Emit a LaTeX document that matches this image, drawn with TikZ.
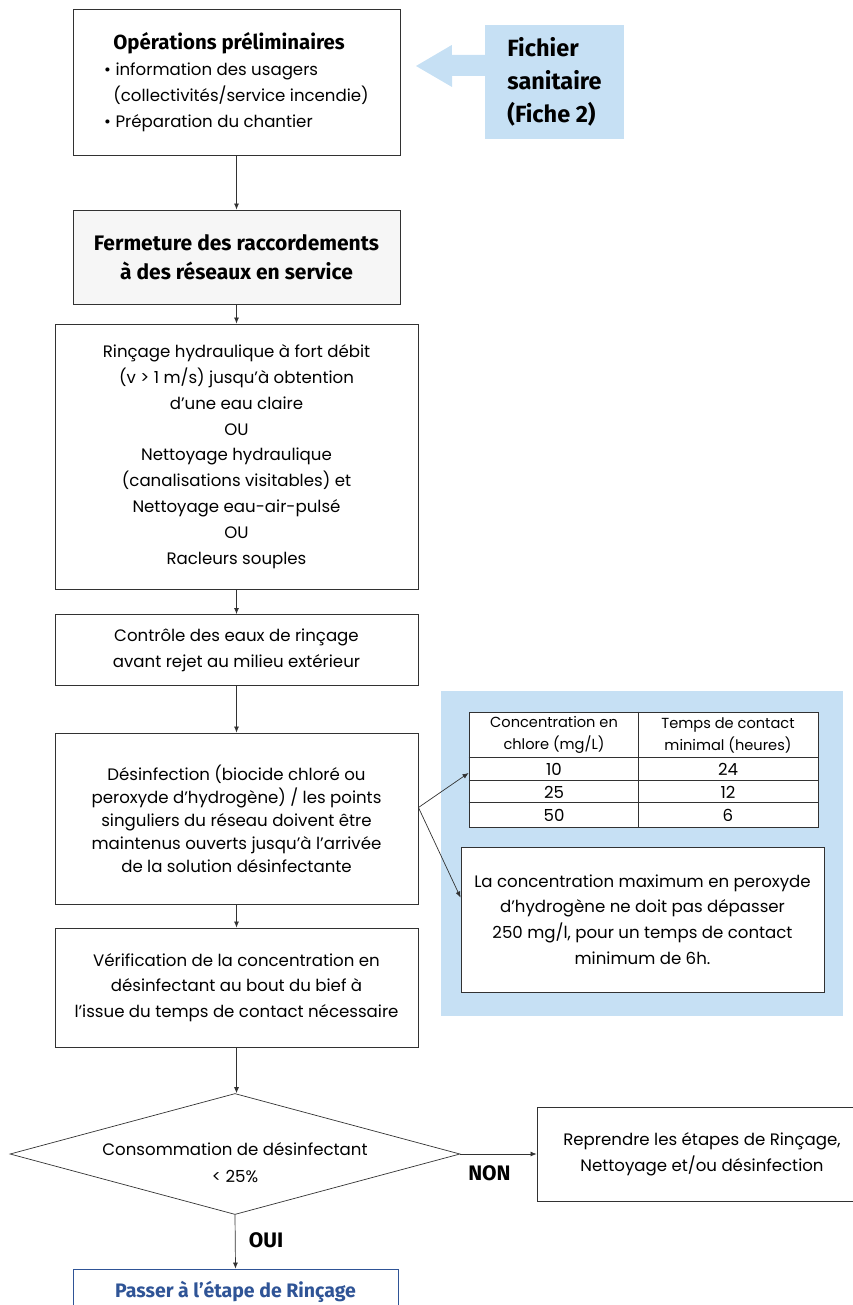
\documentclass[tikz,border=0pt]{standalone}
\usepackage{fontspec}
\setmainfont{Poppins}
\newfontfamily\hdfont{Fira Sans}
\usetikzlibrary{positioning,arrows.meta,shapes.geometric}
\definecolor{colorpanel}{RGB}{198,224,244}
\definecolor{colorline}{RGB}{50,50,50}
\definecolor{colorgo}{RGB}{47,84,150}
\definecolor{colorshade}{RGB}{246,246,246}

\begin{document}
\begin{tikzpicture}[
    x=1pt, y=-1pt,
    font={\fontsize{16.6}{25.8}\selectfont},
    flow/.style={-{Latex[length=6pt,width=5pt]},colorline,line width=0.7pt},
    stage/.style={draw=colorline,line width=0.9pt,fill=white,align=center,inner sep=0pt},
    heading/.style={text=black,font={\hdfont\bfseries\fontsize{21}{29}\selectfont}},
    cell/.style={inner sep=0pt,align=center},
]
    \useasboundingbox (0,0) rectangle (852,1305);

    % Side panel
    \node[fill=colorpanel,minimum width=402pt,minimum height=325pt,inner sep=0pt] (panel) at (642,853.5) {};

    % Main column
    \node[stage,minimum width=327pt,minimum height=146pt,align=left] (prelim) at (236.5,82)
        {\hspace*{0.55em}{\hdfont\bfseries\fontsize{20.4}{26}\selectfont Opérations préliminaires}\\
         \textbullet\ information des usagers\\
         \hspace*{0.55em}(collectivités/service incendie)\\
         \textbullet\ Préparation du chantier};
    \node[stage,heading,fill=colorshade,minimum width=327pt,minimum height=94pt] (closing) at (236.5,257)
        {Fermeture des raccordements\\à des réseaux en service};
    \node[stage,minimum width=363pt,minimum height=265pt] (rinsing) at (236.5,456.5)
        {Rinçage hydraulique à fort débit\\(v > 1 m/s) jusqu’à obtention\\d’une eau claire\\OU\\Nettoyage hydraulique\\(canalisations visitables) et\\Nettoyage eau-air-pulsé\\OU\\Racleurs souples};
    \node[stage,minimum width=363pt,minimum height=71pt] (control) at (236.5,650)
        {Contrôle des eaux de rinçage\\avant rejet au milieu extérieur};
    \node[stage,minimum width=363pt,minimum height=171pt,font={\fontsize{16.6}{23}\selectfont}] (disinf) at (236.5,818.5)
        {Désinfection (biocide chloré ou\\peroxyde d’hydrogène) / les points\\singuliers du réseau doivent être\\maintenus ouverts jusqu’à l’arrivée\\de la solution désinfectante};
    \node[stage,minimum width=363pt,minimum height=119pt] (check) at (236.5,987.5)
        {Vérification de la concentration en\\désinfectant au bout du bief à\\l’issue du temps de contact nécessaire};
    \node[diamond,draw=colorline,line width=0.7pt,aspect=3.75,inner sep=0pt,
          minimum width=450pt,minimum height=121pt] (decision) at (235,1154) {};
    \node[cell,font={\fontsize{16.6}{27}\selectfont}] (decisiontext) at (235,1163)
        {Consommation de désinfectant\\< 25\%};
    \node[stage,minimum width=330pt,minimum height=94pt] (redo) at (702,1154)
        {Reprendre les étapes de Rinçage,\\Nettoyage et/ou désinfection};
    \node[stage,draw=colorgo,minimum width=325pt,minimum height=46pt,
          text=colorgo,font={\hdfont\bfseries\fontsize{19.5}{22}\selectfont}] (next) at (235.5,1292)
        {Passer à l’étape de Rinçage};

    % Fiche sanitaire
    \node[fill=colorpanel,minimum width=139pt,minimum height=114pt,inner sep=0pt,align=left,
          font={\hdfont\bfseries\fontsize{23.5}{33}\selectfont}] (sheet) at (554.5,82)
        {Fichier\\sanitaire\\(Fiche 2)};
    \fill[colorpanel] (sheet.west) ++(0,-27) -- ++(-33,0) -- ++(0,-10) -- (416,66)
        -- (452,87) -- (452,76) -- (486,76) -- cycle;

    % Chlorine table
    \node[draw=colorline,line width=0.9pt,fill=white,minimum width=349pt,minimum height=115pt,inner sep=0pt] (table) at (643.5,769.5) {};
    \draw[colorline,line width=0.9pt] ([xshift=170pt]table.north west) -- ([xshift=170pt]table.south west);
    \draw[colorline,line width=0.9pt] ([yshift=-46pt]table.north west) -- ([yshift=-46pt]table.north east);
    \draw[colorline,line width=0.9pt] ([yshift=-69pt]table.north west) -- ([yshift=-69pt]table.north east);
    \draw[colorline,line width=0.9pt] ([yshift=-91pt]table.north west) -- ([yshift=-91pt]table.north east);
    \node[cell,font={\fontsize{14.6}{22}\selectfont}] (headconc) at (554,735) {Concentration en\\chlore (mg/L)};
    \node[cell,font={\fontsize{14.6}{22}\selectfont}] (headtime) at (728,735) {Temps de contact\\minimal (heures)};
    \node[cell] (conca) at (554,769.5) {10};
    \node[cell] (timea) at (728,769.5) {24};
    \node[cell] (concb) at (554,792) {25};
    \node[cell] (timeb) at (728,792) {12};
    \node[cell] (concc) at (554,815) {50};
    \node[cell] (timec) at (728,815) {6};

    \node[stage,minimum width=363pt,minimum height=145pt] (peroxide) at (642.5,919.5)
        {La concentration maximum en peroxyde\\d’hydrogène ne doit pas dépasser\\250 mg/l, pour un temps de contact\\minimum de 6h.};

    % Connectors
    \draw[flow] (prelim) -- (closing);
    \draw[flow] (closing) -- (rinsing);
    \draw[flow] (rinsing) -- (control);
    \draw[flow] (control) -- (disinf);
    \draw[flow] (disinf) -- (check);
    \draw[flow] (check) -- (check |- decision.north);
    \draw[flow] ([yshift=11pt]disinf.east) -- ([yshift=-3.5pt]table.west);
    \draw[flow] ([yshift=11pt]disinf.east) -- ([yshift=22pt]peroxide.west);
    \draw[flow] (decision.east) -- (redo.west) node[heading,below,midway,yshift=-8pt,xshift=-9pt] (no) {NON};
    \draw[flow] (decision.south) -- (next.north) node[heading,right,midway,xshift=10pt,yshift=1pt] (yes) {OUI};

\end{tikzpicture}
\end{document}
